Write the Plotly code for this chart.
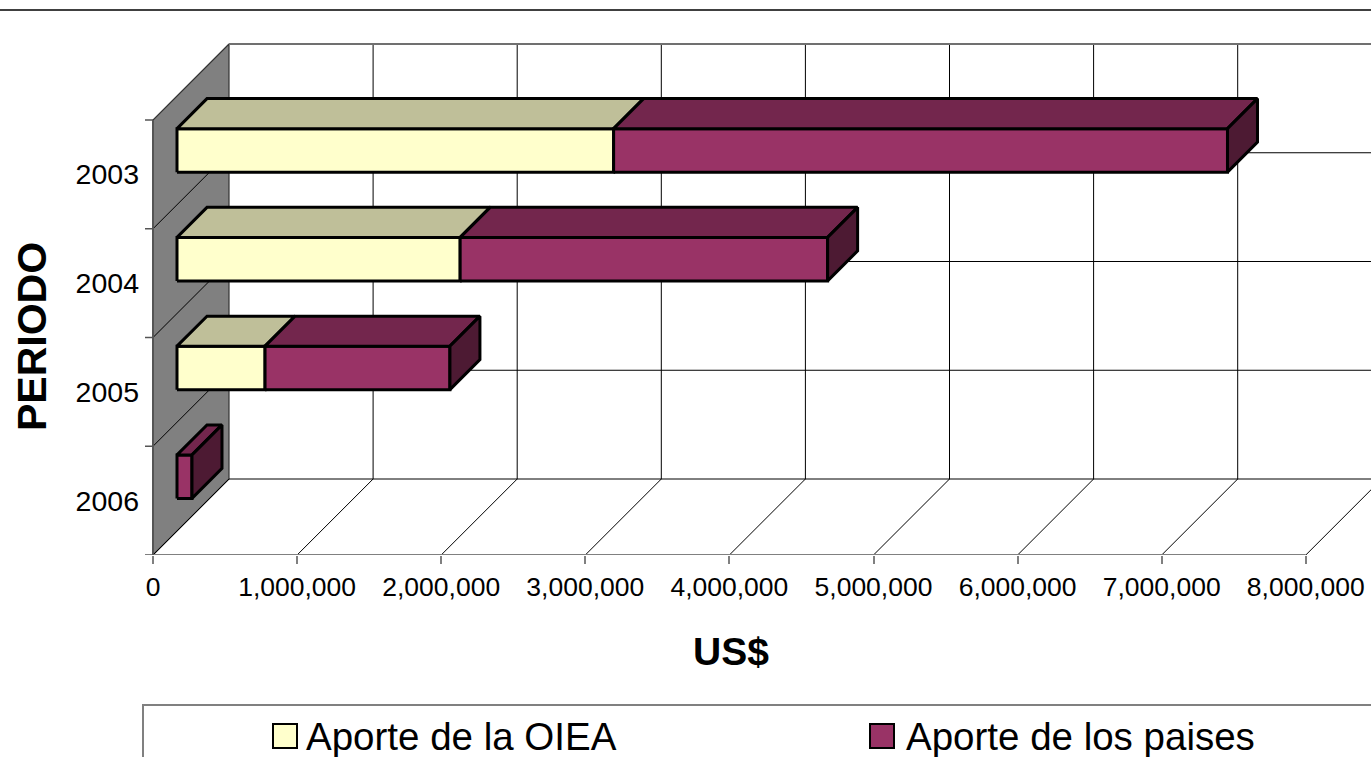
import plotly.graph_objects as go

# ---------------- data ----------------
years = ["2003", "2004", "2005", "2006"]
aporte_oiea = [3030000, 1965000, 611000, 0]
aporte_paises = [4260000, 2550000, 1283000, 104000]
series_names = ["Aporte de la OIEA", "Aporte de los paises"]
x_ticks = [0, 1000000, 2000000, 3000000, 4000000, 5000000, 6000000, 7000000, 8000000]
x_tick_labels = ["0", "1,000,000", "2,000,000", "3,000,000", "4,000,000",
                 "5,000,000", "6,000,000", "7,000,000", "8,000,000"]
x_title = "US$"
y_title = "PERIODO"

# ---------------- style ----------------
FONT = "Liberation Sans, Arial, sans-serif"
W, H = 1371, 757
PL, PR, PT, PB = 145, 1371, 30, 555          # plot area in pixels
PX_PER_USD = 144.1 / 1e6
PX_PER_CAT = 108.75
X0_PX = 153                                  # pixel of value 0 on the front plane
DEPTH_X = 76 / PX_PER_USD                    # depth offset, US$ units
DEPTH_Y = 76 / PX_PER_CAT                    # depth offset, category units
T_FRONT, T_BACK = 24 / 76, 54 / 76
BAR_W = 0.4
TICK_LEN = 8 / PX_PER_USD

front_cols = ["#FFFFCC", "#993366"]
top_cols = ["#BFBF99", "#73264D"]
side_cols = ["#80805F", "#4D1A33"]
WALL = "#808080"

n_cat = len(years)
x_max = x_ticks[-1]
x_range = [(PL - X0_PX) / PX_PER_USD, (PR - X0_PX) / PX_PER_USD]
y_range = [0, (PB - PT) / PX_PER_CAT]


def P(v, y, t):
    return v + t * DEPTH_X, y + t * DEPTH_Y


def fx(px):
    return (px - PL) / (PR - PL)


def fy(py):
    return (PB - py) / (PB - PT)


fig = go.Figure()


def poly(pts, fill, lc="black", lw=1.0):
    xs = [p[0] for p in pts] + [pts[0][0]]
    ys = [p[1] for p in pts] + [pts[0][1]]
    fig.add_trace(go.Scatter(x=xs, y=ys, mode="lines", fill="toself", fillcolor=fill,
                             line=dict(color=lc, width=lw), hoverinfo="skip",
                             showlegend=False))


def segs(pairs, color, width):
    xs, ys = [], []
    for a, b in pairs:
        xs += [a[0], b[0], None]
        ys += [a[1], b[1], None]
    fig.add_trace(go.Scatter(x=xs, y=ys, mode="lines", line=dict(color=color, width=width),
                             hoverinfo="skip", showlegend=False))


# left wall
poly([P(0, 0, 0), P(0, n_cat, 0), P(0, n_cat, 1), P(0, 0, 1)], WALL, "#333333", 1.2)
# back wall grid (vertical)
segs([(P(v, 0, 1), P(v, n_cat, 1)) for v in x_ticks[1:]], "black", 1)
# back wall grid (horizontal)
segs([(P(0, i, 1), P(x_max, i, 1)) for i in range(0, n_cat)], "black", 1)
segs([(P(0, n_cat, 1), P(x_max, n_cat, 1))], "#707070", 2)
# left wall diagonals
segs([(P(0, i, 0), P(0, i, 1)) for i in range(1, n_cat)], "black", 1)
# floor diagonals
segs([(P(v, 0, 0), P(v, 0, 1)) for v in x_ticks], "black", 1)
# front edges
segs([(P(0, 0, 0), P(x_max, 0, 0))], "#808080", 2)
segs([(P(0, 0, 0), P(0, n_cat, 0))], "#555555", 2)
# category tick marks
segs([((-TICK_LEN, i), (0, i)) for i in range(0, n_cat + 1)], "#555555", 1.5)

# bars
for k, yr in enumerate(years):
    slot = n_cat - 1 - k
    y0 = slot + 0.5 - BAR_W / 2
    y1 = slot + 0.5 + BAR_W / 2
    vals = [aporte_oiea[k], aporte_paises[k]]
    start = 0
    segments = []
    for s, v in enumerate(vals):
        if v > 0:
            segments.append((s, start, start + v))
        start += v
    for idx, (s, a, b) in enumerate(segments):
        poly([P(a, y0, T_FRONT), P(b, y0, T_FRONT), P(b, y1, T_FRONT), P(a, y1, T_FRONT)],
             front_cols[s], "black", 3)
        poly([P(a, y1, T_FRONT), P(b, y1, T_FRONT), P(b, y1, T_BACK), P(a, y1, T_BACK)],
             top_cols[s], "black", 3)
        if idx == len(segments) - 1:
            poly([P(b, y0, T_FRONT), P(b, y1, T_FRONT), P(b, y1, T_BACK), P(b, y0, T_BACK)],
                 side_cols[s], "black", 3)

shapes = []
# top border line
shapes.append(dict(type="line", xref="paper", yref="paper", x0=fx(0), x1=fx(W + 5),
                   y0=fy(10), y1=fy(10), line=dict(color="#404040", width=2)))
# legend box
shapes.append(dict(type="rect", xref="paper", yref="paper", x0=fx(143), x1=fx(W + 20),
                   y0=fy(705), y1=fy(H + 20), line=dict(color="#808080", width=2),
                   fillcolor="rgba(0,0,0,0)"))
annotations = []
legend_sq_x = [273, 870]
legend_txt_x = [304, 904]
for s, name in enumerate(series_names):
    shapes.append(dict(type="rect", xref="paper", yref="paper",
                       x0=fx(legend_sq_x[s]), x1=fx(legend_sq_x[s] + 24),
                       y0=fy(724), y1=fy(748), fillcolor=front_cols[s],
                       line=dict(color="black", width=2)))
    annotations.append(dict(text=name, xref="paper", yref="paper", x=fx(legend_txt_x[s]),
                            y=fy(736), xanchor="left", yanchor="middle", showarrow=False,
                            font=dict(family=FONT, size=38.5, color="black")))

annotations.append(dict(text="<b>" + x_title + "</b>", xref="paper", yref="paper",
                        x=fx(731), y=fy(651), xanchor="center", yanchor="middle",
                        showarrow=False, font=dict(family=FONT, size=39, color="black")))
annotations.append(dict(text="<b>" + y_title + "</b>", xref="paper", yref="paper",
                        x=fx(32), y=fy(337), xanchor="center", yanchor="middle", textangle=-90,
                        showarrow=False, font=dict(family=FONT, size=41, color="black")))

fig.update_layout(
    width=W, height=H,
    margin=dict(l=PL, r=W - PR, t=PT, b=H - PB, pad=0),
    paper_bgcolor="white", plot_bgcolor="white",
    showlegend=False,
    shapes=shapes, annotations=annotations,
    xaxis=dict(range=x_range, tickvals=x_ticks, ticktext=x_tick_labels, ticks="outside",
               ticklen=8, tickwidth=2, tickcolor="#808080", showgrid=False, zeroline=False,
               showline=False, tickfont=dict(family=FONT, size=26.5, color="black")),
    yaxis=dict(range=y_range, tickvals=[n_cat - 1 - k + 0.5 for k in range(n_cat)],
               ticktext=years, ticks="", showgrid=False, zeroline=False, showline=False,
               ticklabelstandoff=5,
               tickfont=dict(family=FONT, size=28.5, color="black")),
    font=dict(family=FONT),
)

fig.write_html("out.html", config={"displayModeBar": False},
               post_script="document.body.style.margin='0';document.body.style.overflow='hidden';")
